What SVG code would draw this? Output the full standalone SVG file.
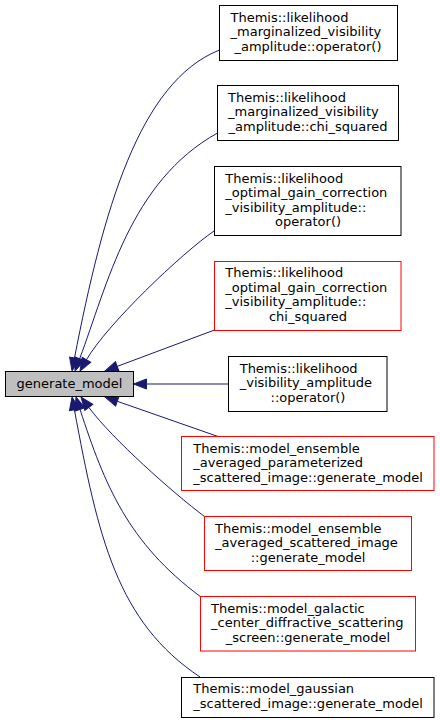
<svg xmlns="http://www.w3.org/2000/svg" width="440" height="723" viewBox="0 0 440 723">
<style>
.bx{fill:#ffffff;stroke:#000000;stroke-width:1}
.red{stroke:#ff0000}
.cur{fill:#bfbfbf}
text{font-family:"DejaVu Sans","Liberation Sans",sans-serif;font-size:13px;fill:#000000}
.c{text-anchor:middle}
.e{fill:none;stroke:#191970;stroke-width:1;marker-end:url(#arr)}
</style>
<defs>
<marker id="arr" markerUnits="userSpaceOnUse" markerWidth="13" markerHeight="10" viewBox="0 0 13 10" refX="0" refY="5" orient="auto" overflow="visible">
<path d="M0,0 L13,5 L0,10 z" fill="#191970" stroke="#191970" stroke-width="1"/>
</marker>
</defs>
<rect width="440" height="723" fill="#ffffff"/>
<g id="connectors">
<path class="e" d="M219.5,50 C139,82 103,211 74.5,358"/>
<path class="e" d="M217.5,133 C129.7,182 107.8,284 79.6,358.8"/>
<path class="e" d="M214.5,230.7 C181.2,253.5 106.5,325 86.5,359.7"/>
<path class="e" d="M214.5,330 L117.2,366.4"/>
<path class="e" d="M228.5,384 L146.5,384"/>
<path class="e" d="M218,436.5 L117.3,401.3"/>
<path class="e" d="M204.5,516.5 C172,492 112.8,439.4 88.8,407.4"/>
<path class="e" d="M200.5,596.7 C128,542.7 104.8,485.4 80,409.4"/>
<path class="e" d="M200,677 C117,621.7 98.2,537.6 74.4,409.8"/>
</g>
<g id="generate_model">
<rect class="bx cur" x="5.5" y="371.5" width="128" height="25"/>
<text class="c" x="69.5" y="388">generate_model</text>
</g>
<g id="n1">
<rect class="bx" x="219.5" y="5.5" width="178" height="55"/>
<text x="230.5" y="21.7">Themis::likelihood</text>
<text x="230.5" y="36.2">_marginalized_visibility</text>
<text class="c" x="308" y="50.7">_amplitude::operator()</text>
</g>
<g id="n2">
<rect class="bx" x="217.5" y="85.5" width="181" height="55"/>
<text x="228" y="101.7">Themis::likelihood</text>
<text x="228" y="116.2">_marginalized_visibility</text>
<text class="c" x="308" y="130.7">_amplitude::chi_squared</text>
</g>
<g id="n3">
<rect class="bx" x="214.5" y="166.5" width="186.5" height="69"/>
<text x="225.3" y="182.7">Themis::likelihood</text>
<text x="225.3" y="197.2">_optimal_gain_correction</text>
<text x="225.3" y="211.7">_visibility_amplitude::</text>
<text class="c" x="308" y="226.2">operator()</text>
</g>
<g id="n4">
<rect class="bx red" x="214.5" y="261.5" width="186.5" height="69"/>
<text x="225.3" y="277">Themis::likelihood</text>
<text x="225.3" y="291.5">_optimal_gain_correction</text>
<text x="225.3" y="306">_visibility_amplitude::</text>
<text class="c" x="308" y="320.5">chi_squared</text>
</g>
<g id="n5">
<rect class="bx" x="228.5" y="356.5" width="158.5" height="55"/>
<text x="239.7" y="372.7">Themis::likelihood</text>
<text x="239.7" y="387.2">_visibility_amplitude</text>
<text class="c" x="308" y="401.7">::operator()</text>
</g>
<g id="n6">
<rect class="bx red" x="181.5" y="436.5" width="252.5" height="54"/>
<text x="193.3" y="452.7">Themis::model_ensemble</text>
<text x="193.3" y="467.2">_averaged_parameterized</text>
<text class="c" x="308" y="481.7">_scattered_image::generate_model</text>
</g>
<g id="n7">
<rect class="bx red" x="204.5" y="516.5" width="207" height="54"/>
<text x="215" y="532.7">Themis::model_ensemble</text>
<text x="215" y="547.2">_averaged_scattered_image</text>
<text class="c" x="308" y="561.7">::generate_model</text>
</g>
<g id="n8">
<rect class="bx red" x="200.5" y="596.5" width="215" height="54.5"/>
<text x="211" y="612.7">Themis::model_galactic</text>
<text x="211" y="627.2">_center_diffractive_scattering</text>
<text class="c" x="308" y="641.7">_screen::generate_model</text>
</g>
<g id="n9">
<rect class="bx" x="181.5" y="677.5" width="252.5" height="40"/>
<text x="193.3" y="693.3">Themis::model_gaussian</text>
<text class="c" x="308" y="707.8">_scattered_image::generate_model</text>
</g>
</svg>
